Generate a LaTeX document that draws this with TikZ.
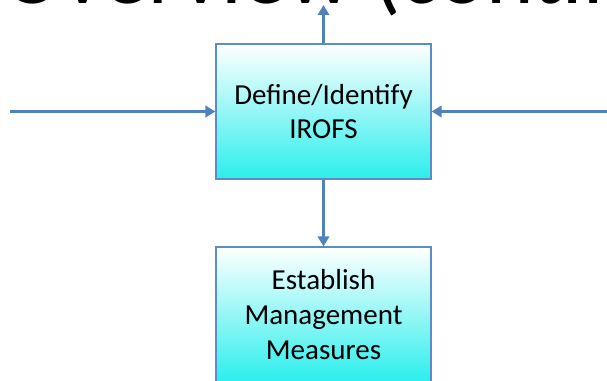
\documentclass[tikz,border=0pt]{standalone}
\usepackage{fontspec}
\setmainfont{Carlito}
\usetikzlibrary{arrows.meta}
\definecolor{linkblue}{HTML}{4F81BD}
\definecolor{boxblue}{HTML}{5B8BCB}
\definecolor{boxcyan}{HTML}{2AEEEC}
\tikzset{
  box/.style={draw=boxblue, line width=0.9pt, top color=white, bottom color=boxcyan,
    minimum width=161.25pt, minimum height=101.25pt, align=center, inner sep=0pt,
    font=\fontsize{21.75}{26}\selectfont},
  link/.style={draw=linkblue, line width=2.6pt, -{Triangle[length=7.5pt,width=8.5pt]}},
  titletext/.style={inner sep=0pt, font=\fontsize{68}{80}\selectfont}
}
\begin{document}
\begin{tikzpicture}[x=0.75pt,y=-0.75pt]
\useasboundingbox (0,0) rectangle (607,381);
\clip (0,0) rectangle (607,381);
\node[titletext, anchor=base west] (t2) at (373,4) {(continued)};
\node[titletext, anchor=base east] (t1) at (352,4) {Process Overview};
\node[box] (irofs) at (323.5,111.5) {Define/Identify\\IROFS};
\node[box] (mm) at (323.5,314.5) {Establish\\Management\\Measures};
\coordinate (up) at (323.5,5);
\coordinate (lft) at (10,111.5);
\coordinate (rgt) at (612,111.5);
\draw[link] (irofs.north) -- (up);
\draw[link] (lft) -- (irofs.west);
\draw[link] (rgt) -- (irofs.east);
\draw[link] (irofs.south) -- (mm.north);
\end{tikzpicture}
\end{document}
